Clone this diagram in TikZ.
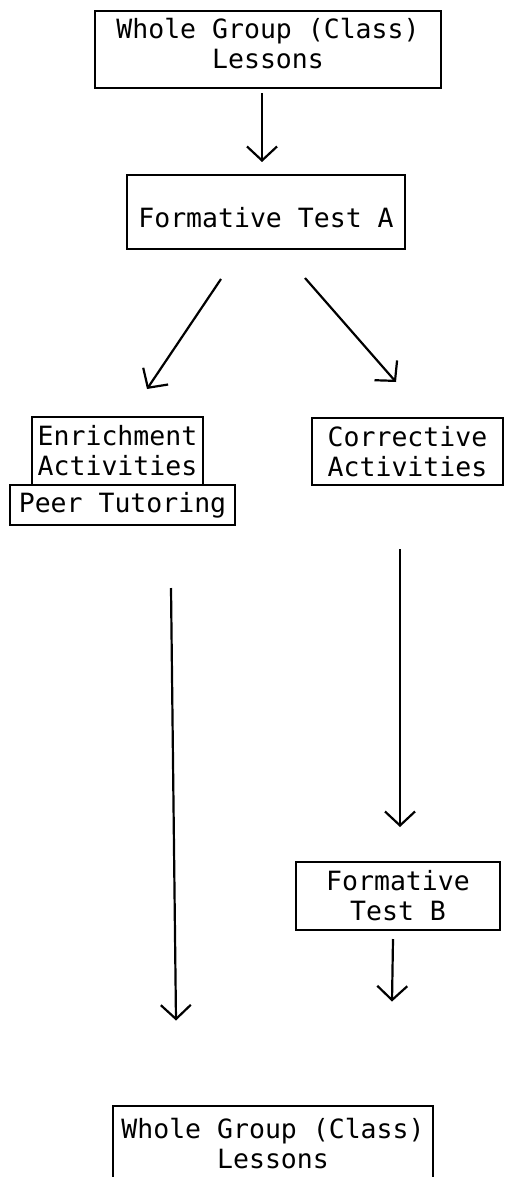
\documentclass[tikz,border=0pt]{standalone}
\usepackage{fontspec}
\newfontfamily\typefont{DejaVu Sans Mono}
\usetikzlibrary{arrows.meta}

\begin{document}
\begin{tikzpicture}[x=1pt, y=-1pt, >={Straight Barb[length=14pt,width=30pt]},
    box/.style={draw, line width=2pt, align=center, inner sep=0pt,
        font=\typefont\fontsize{26.5}{30}\selectfont},
    flow/.style={->, line width=2.2pt}]
    \useasboundingbox (0,0) rectangle (505,1177);
    % boxes
    \node[box, minimum width=346pt, minimum height=77pt, text depth=14pt] (top) at (268,50) {Whole Group (Class)\\Lessons};
    \node[box, minimum width=278pt, minimum height=74pt, text height=36pt, text depth=6pt] (testA) at (266,212) {Formative Test A};
    \node[box, minimum width=171pt, minimum height=68pt] (enrich) at (117.5,451) {Enrichment\\Activities};
    \node[box, minimum width=225pt, minimum height=40pt] (peer) at (122.5,505) {Peer Tutoring};
    \node[box, minimum width=191pt, minimum height=67pt] (correct) at (407.5,451.5) {Corrective\\Activities};
    \node[box, minimum width=204pt, minimum height=68pt] (testB) at (398,896) {Formative\\Test B};
    \node[box, minimum width=320pt, minimum height=77pt] (bottom) at (273,1144) {Whole Group (Class)\\Lessons};
    % arrows
    \draw[flow] ([xshift=-6pt,yshift=-4pt]top.south) -- ([xshift=-4pt,yshift=12pt]testA.north);
    \draw[flow] ([xshift=95pt,yshift=-29pt]testA.south west) -- ([xshift=116pt,yshift=27pt]enrich.north west);
    \draw[flow] ([xshift=179pt,yshift=-28pt]testA.south west) -- ([xshift=85pt,yshift=35pt]correct.north west);
    \draw[flow] ([xshift=162pt,yshift=-62pt]peer.south west) -- ([xshift=64pt,yshift=84pt]bottom.north west);
    \draw[flow] ([xshift=-7.5pt,yshift=-63pt]correct.south) -- ([xshift=2pt,yshift=34pt]testB.north);
    \draw[flow] ([xshift=-5pt,yshift=-8pt]testB.south) -- ([xshift=280pt,yshift=103pt]bottom.north west);
\end{tikzpicture}
\end{document}
